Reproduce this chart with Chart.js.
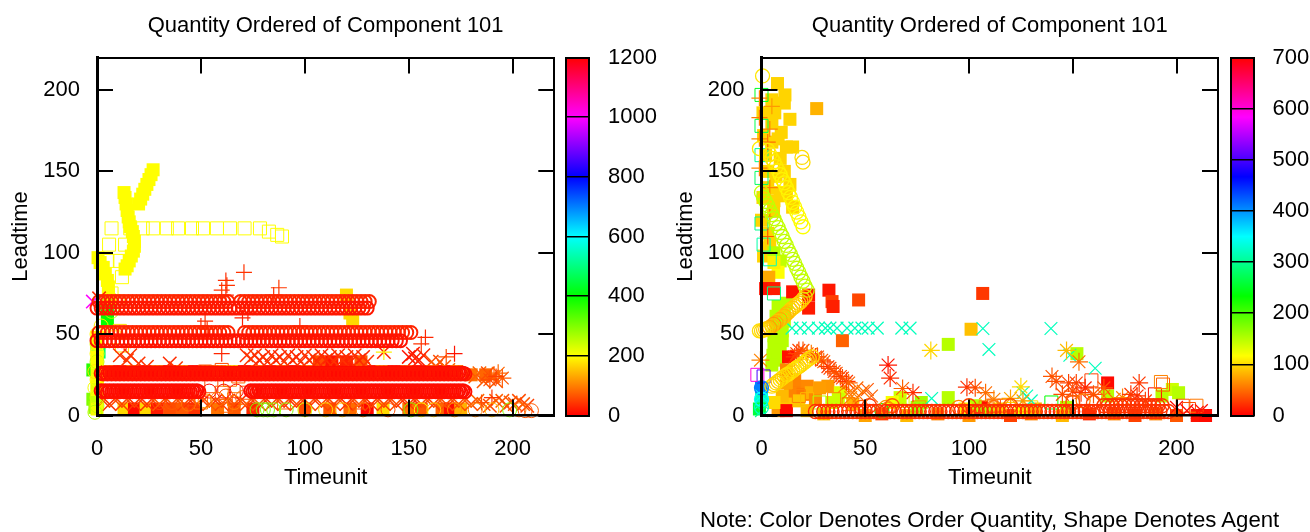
<!DOCTYPE html>
<html><head><meta charset="utf-8">
<script src="https://cdn.jsdelivr.net/npm/chart.js@4"></script>
<style>
html,body{margin:0;padding:0;background:#fff;width:1310px;height:532px;overflow:hidden}
canvas{position:absolute;top:0}
#note{position:absolute;left:700px;top:507px;font:22.2px "Liberation Sans",Arial,sans-serif;color:#000;white-space:nowrap}
</style></head><body>
<canvas id="plotL" width="580" height="532" style="left:0"></canvas>
<canvas id="barL" width="100" height="532" style="left:560px"></canvas>
<canvas id="plotR" width="580" height="532" style="left:665px"></canvas>
<canvas id="barR" width="85" height="532" style="left:1225px"></canvas>
<div id="note">Note: Color Denotes Order Quantity, Shape Denotes Agent</div>
<script>
const chartTitle='Quantity Ordered of Component 101', xTitle='Timeunit', yTitle='Leadtime';
const qtyMaxL=1200, qtyMaxR=700;

// ---- left panel: circle bands (times typed per row)
const row70=[1,3,5,7,9,11,13,15,17,19,21,23,25,27,29,31,33,35,37,39,41,43,45,47,49,51,53,55,57,59,61,63,69,71,73,75,77,79,81,83,85,87,89,91,93,95,97,99,101,103,105,107,109,111,113,115,117,119,121,123,125,127,129,131];
const row66=[0,2,4,6,8,10,12,14,16,18,20,22,24,26,28,30,32,34,36,38,40,42,44,46,48,50,52,54,56,58,60,62,64,66,68,70,72,74,76,78,80,82,84,86,88,90,92,94,96,98,100,102,104,106,108,110,112,114,116,118,120,122,124,126,128,130];
const row51=[1,3,5,7,9,11,13,15,17,19,21,23,25,27,29,31,33,35,37,39,41,43,45,47,49,51,53,55,57,59,61,63,71,73,75,77,79,81,83,85,87,89,91,93,95,97,99,101,103,105,107,109,111,113,115,117,119,121,123,125,127,129,131,133,135,137,139,141,143,145,147,149,151];
const row46=[0,2,4,6,8,10,12,14,16,18,20,22,24,26,28,30,32,34,36,38,40,42,44,46,48,50,52,54,56,58,60,62,64,66,68,70,72,74,76,78,80,82,84,86,88,90,92,94,96,98,100,102,104,106,108,110,112,114,116,118,120,122,124,126,128,130,132,134,136,138,140,142,144,146];
const row26=[2,4,6,8,10,12,14,16,18,20,22,24,26,28,30,32,34,36,38,40,42,44,46,48,50,52,54,56,58,60,62,64,66,68,70,72,74,76,78,80,82,84,86,88,90,92,94,96,98,100,102,104,106,108,110,112,114,116,118,120,122,124,126,128,130,132,134,136,138,140,142,144,146,148,150,152,154,156,158,160,162,164,166,168,170,172,174,176];
const row25=[3,5,7,9,11,13,15,17,19,21,23,25,27,29,31,33,35,37,39,41,43,45,47,49,51,53,55,57,59,61,63,65,67,69,71,73,75,77,79,81,83,85,87,89,91,93,95,97,99,101,103,105,107,109,111,113,115,117,119,121,123,125,127,129,131,133,135,137,139,141,143,145,147,149,151,153,155,157,159,161,163,165,167,169,171,173,175,177];
const row16=[2,4,6,8,10,12,14,16,18,20,22,24,26,28,30,32,34,36,38,40,42,44,46,48,74,76,78,80,82,84,86,88,90,92,94,96,98,100,102,104,106,108,110,112,114,116,118,120,122,124,126,128,130,132,134,136,138,140,142,144,146,148,150,152,154,156,158,160,162,164,166,168,170,172,174,176];
const row14=[3,5,7,9,11,13,15,17,19,21,23,25,27,29,31,33,35,37,39,41,43,45,47,49,75,77,79,81,83,85,87,89,91,93,95,97,99,101,103,105,107,109,111,113,115,117,119,121,123,125,127,129,131,133,135,137,139,141,143,145,147,149,151,153,155,157,159,161,163,165,167,169,171,173,175,177];
const bandLeads=[70,66,51,46,26,25.5,15.2,14.6];
const bandQtys=[30,18,28,15,8,14,6,12];
const bandRows=[row70,row66,row51,row46,row26,row25,row16,row14];

// ---- flat triples: time, leadtime, quantity
const lCircles=[-1,2,260,0,6,240,0,11,230,-1,17,210,0,22,200,-1,27,180,0,33,240,0,38,200,0,44,220,0,50,200,2,55,190,5,68,300,7,64,260,54,15,10,61,15,8,67,15,12,
 77,3.5,300,80,3.5,300,82,3.5,300,85,3.5,290,91,3.5,300,100,3.5,230,110,3.5,170,118,3.5,150,128,3.5,100,140,3.5,60,151,3.5,300,156,3.5,200,162,3.5,160,172,3.5,120,182,3.5,100,190,3.5,150,198.5,3.5,300,203,3.5,90,206,3,70,209,3,70,
 30,8,60,36,8,70,44,7,90,52,9,120,58,10,90,62,12,60,66,8,100,70,11,80];
const lFilled=[13,137,200,13.5,134,200,14,130,200,14.5,126,200,15,122,200,15.5,119,200,16,116,200,17,113,200,17.5,110,200,18,107,200,18,104,200,17.5,101,200,16.5,98,200,15.5,95,200,14.5,92,200,13.5,90,200,
 27,151,200,26,148,200,25,145,200,24,142,200,23,139,200,22,136,200,21,133,200,20,130,200,
 0.5,97,200,1.5,94,200,3,91,200,4,87,200,5,83,200,5.5,79,200,5.5,75,200,6,71,200,
 120,74,170,121.7,63,170,123,59,170,
 5,64,400,5,58,400,0,42,500,1,39,480,-2,28,370,-2,10,300,-1,5,280,0,48,200,0,44,210,0,36,200,0,32,205,0,24,210,0,20,200,0,16,220,0,12,205,0,8,240,0,4,210,
 5,27,60,11,27,20,17,27,80,23,27,15,29,27,70,35,27,12,41,27,90,47,27,15,53,27,60,59,27,90,65,27,150,71,27,15,77,27,85,83,27,20,89,27,70,95,27,15,101,27,90,107,27,12,113,27,85,119,27,15,125,27,60,131,27,15,137,27,80,143,27,18,149,27,60,155,27,15,161,27,70,167,27,15,173,27,80,180,25,90,187,25,80,
 107,33,60,113,33,15,120,33,25,127,33,70,
 13,4,170,18,4,8,23.6,4,170,29,4,20,35,4,60,41,4,70,47,4,40,58,4,90,66,4,70,75,4,30,100,4,60,112,4,70,121.7,4,85,130,4,5,137.6,4,170,150,4,90,156,4,70,166,4,80,170,4,10,175,4,140];
const lHollow=[7,115,200,16,115,200,22,115,200,27,115,200,33.6,115,200,39,115,200,45.7,115,200,51,115,200,57.7,115,200,64,115,200,71,115,200,78.4,115,200,82.7,113,200,86.7,111,200,89,110,200,
 5.8,105,200,13.5,105,200,5,95,200,11,95,200,12,85,200,7,75,200,10,70,190,11,52,170,8,48,180,12,43,170,
 52,27,60,56,26,90,60,28,60,64,22,100,68,24,80,55,18,60,60,14,90,66,10,90,72,14,60,62,6,80,44,10,60,50,8,90,90,8,80,125,8,60];
const lCrossX=[11,37,40,14.4,34,45,16,37,40,20,32,40,24,30,40,35,32,35,38,29,40,
 72,37,35,74,35,40,76,37,45,78,34,30,80,36,35,82,33,40,84,37,35,86,34,40,88,36,30,90,33,45,92,37,35,94,34,40,96,36,30,98,33,35,100,37,40,102,34,35,104,36,40,106,33,35,108,37,30,110,34,35,112,36,30,114,33,40,116,37,35,118,34,40,120,36,35,122,33,30,124,37,40,126,34,35,128,36,30,130,33,40,138,39,30,150,36,15,152,38,20,153,35,25,155,34,25,157,37,30,161,33,60,163,30,70,165,33,60,167,30,70,169,28,80,182,24,70,184,26,80,186,21,70,188,26,60,190,24,70,192,21,70,
 3,9,50,6,7,40,9,9,60,12,7,50,15,9,60,18,7,45,21,9,50,24,7,40,27,9,55,30,7,70,33,9,45,36,7,60,39,9,60,42,7,50,45,9,40,48,7,60,51,9,50,54,7,70,57,9,45,60,7,55,63,9,60,66,7,60,69,9,40,72,7,60,75,9,50,78,7,70,81,9,40,84,7,50,87,9,60,90,7,55,93,9,45,96,7,60,99,9,50,102,7,60,105,9,45,108,7,55,111,9,60,114,7,50,117,9,60,120,7,40,123,9,55,126,7,60,129,9,50,132,7,45,135,9,60,138,7,50,141,9,55,144,7,60,147,9,40,150,7,50,153,9,40,156,7,60,159,9,60,162,7,50,165,9,70,168,7,60,171,9,55,174,7,60,177,9,70,180,7,60,183,9,80,186,7,70,189,6,60,192,9,75,195,9,70,197,6,60,199,8,70,201,7,65,203,9,60,205,7,70,207,6,50,-2,70,1000,1,72,30,3,67,60];
const lPlus=[70.7,88,40,62,83,35,62.5,80,40,62,74,30,60,77,40,87.5,78.5,45,85,74,40,52,58,35,53,53,40,50,55,30,72.6,63,30,70,60,25,97.6,55,30,158,48,30,156,44,40,172,38,15,168,36,60,192,24,50,190,11,40,138,39,190,185,8,60,60,38,30];
const lStars=[191,24,70,193,26,80,195,23,70,189,22,60];

// ---- right panel
const rBandT=[26,28,30,32,34,36,38,40,42,44,46,48,50,52,54,56,60,62,64,66,68,70,72,74,76,78,80,82,84,86,88,90,92,94,96,98,100,102,104,106,108,110,112,114,116,118,120,122,124,126,128,130,132,134,136,138,140,142,144,146,148,150,152,154,156,158,160,162,164,166,168,170,172,174,176,178,180,182,184,186,188,190,192,194,196];
const rBand2T=[165,167,169,171,173,175,177,179,181,183,185,187,189,191,193];
const rBandLead=2.5, rBandQty=22, rBand2Lead=6, rBand2Qty=24;
const rCircles=[3,163,108,4,160.5,108,5,158,108,6,156,108,7,153,108,8,150.5,108,9,148,112,10,145,112,11,143,112,12,140,112,13,137,112,14,134,112,15,131,115,16,128,115,17,125,115,18,122,115,19,119,115,20,116,118,0.5,208.7,105,19.5,158.6,100,20,155.7,100,-1,164,108,
 0,137,145,1,134,145,2,131.5,145,3,129,145,4,126,145,5,123.5,145,6,121,145,7,118,145,8,115.5,145,9,112.5,145,10,110,145,11,107,145,12,104.5,145,13,101.5,145,14,99,145,15,96,145,16,93.5,145,17,90.5,145,18,88,145,19,85,145,20,82.5,145,21,79.5,145,22,77,145,
 21,73,95,20,71.5,95,19,70,90,18,69,95,17,68,100,16,67,95,15,66,90,14,65,95,13,63.5,90,12,62.5,85,11,61,85,10,60,90,9,59,80,8,58,90,7,57,80,6,56,70,5,55,85,4,54,75,3,53.5,85,2,53,90,1,52.5,95,0,52,100,-1,52,100,
 24.5,36,100,23,35,100,22,34,95,21,33,100,20,32,105,19,31,100,18,30,95,17,29.5,100,16,28.5,105,15,27.5,100,14,26.5,95,13,25.5,100,12,25,105,11,24,100,10,23,95,9,22,100,8,21,90,7,20,100,6,19,95,5,18,100,
 0,17,408,0,10,350,0,5,320,
 58,3,230,61,4,60,150,8,40,155,9,60,160,8,35,48,5,40,52,6,30,60,5,70,63,6,40,95,5,60,100,6,30,112,5,50,120,6,40];
const rFilled=[7.7,204,97,11.3,197,97,11,192,97,0.7,186,97,6.4,186,97,13.7,182,97,9.5,174,97,15,165,97,12,165,97,9,158,97,13.7,142,97,15,128,97,0.7,134,97,5.8,126,97,0,120,97,4,106,97,3.5,103,97,3,112,97,1,98,97,26.6,188.6,82,5,180,97,3,150,97,7,147,97,6,132,97,2,160,97,5,194,97,8,170,97,5,168,97,11,150,97,3,140,97,9,137,97,12,135,97,1,172,97,
 9,95,145,6,100,150,8,88,117,6,94,110,3.5,85,78,2,78,8,6,78,12,
 12,69,150,8,67,150,11,64,150,7,61,150,11,58,150,7,55,150,10,52,150,6,49,150,10,46,150,6,43,150,9,40,150,5.5,37,150,8,34,150,5,31,150,
 32.5,77,10,34,70,28,34.5,67,14,46.8,71,32,22.7,66,12,22.7,74,10,15,76,8,39,46,45,13,36,8,12,28,62,101,53,88,90,43.7,150,90,11,150,66.8,11,140,63,8,120,77,8,160,106.6,75,25,166.8,20,4,152,38,150,198,16,140,201,14,150,193,12,150,166.8,12,150,147,5,150,106,5,8,103,6,150,
 15,17,65,18,17,58,22,18,62,32,18,70,14,14,60,12,7,90,8,3,70,12,3,4,22,3,85,44,7,85,38,14,130,37,10,140,34,8,140,16,22,60,20,13,55,24,14,80,26,10,62,28,17,72,12,20,75,10,12,85,18,9,90,6,8,100,
 30,1,85,50,0,75,58,1,30,70,0,85,85,1,60,100,0,70,120,0,30,130,1,60,145,0,85,158,1,20,170,1,60,180,0,30,190,1,60,200,0,40,210,0,8,214,0,5,98,4,110,110,3,150,75,5,160,115,4,95,125,3,120,132,4,80,
 0,17,408,0,10,320,-1,4,260];
const rHollow=[0,197,250,0,178,270,0,160,300,0,146,280,0,118,300,1,105,310,4,96,320,6,75,290,1,24,500,-2,25,600,
 159,21.6,30,189.6,13,8,192.5,20.6,60,193.5,19,45,139.7,8,233,130,5,100,117,6,50,112,6,30,108,5,60,120,4,100,203,6,40,209.6,6,55,206,4,35,
 18,12,60,22,10,85,28,8,150,35,10,60,42,7,60,68,9,130,76,5,70,150,8,40];
const rCrossX=[14.7,53.7,320,18.7,53.7,320,22.6,53.7,320,27.4,53.7,320,30.8,53.7,320,33,53.7,320,36.4,53.7,320,41.2,53.7,320,45,53.7,320,48.4,53.7,320,51.4,53.7,320,55.8,53.7,320,67.6,53.7,320,71.6,53.7,320,
 106.7,53.5,320,109.6,40.6,320,139.5,53.5,320,160.8,29,320,148.6,37,320,82,10.5,320,127.8,12,320,126,14,320,130,9,320,
 0,12,350,0,8,330,0,3,300,40,18,60,42,14,50,44,14,60,46,17,50,47,12,50,49,15,55,51,16,40,53,12,45,43,11,60,165,12,60,170,10,50,200,5,5,205,3,4,210,2,4,212,3,8];
const rPlus=[-1,195,60,-1,183,55,-1,170,60,-1,152,60,5,190,70,4,176,60,3,168,50,4,140,60,4,122,50,3,110,40];
const rStars=[61,31,10,62,23,20,81.6,40,98,-0.5,34,60,99,17.4,20,103,17,35,68,16.6,45,73,14,20,
 16,36,25,18,40,30,20,40,40,22,38,45,24,38,55,26,36,30,27,36,35,29,34,40,30,33,45,32,30,25,33,29,30,35,27,35,36,26,40,38,24,30,39,23,35,41,21,25,42,20,45,17,38,30,
 125,17.6,100,120,10.5,75,140,24,40,142,21,35,145,13,35,147,40,85,153,33,50,151.7,20,30,156,17,15,182,20,25,181,12,20,174,11,60,165,17,40,108,14,50,112,10,60,126,9,70,148,20,30,150,15,35,154,14,25,160,13,40,178,13,25,185,9,30];

const hue=(q,max)=>`hsl(${q/max*360},100%,50%)`;
function triples(flat,max){const pts=[],cols=[];for(let i=0;i<flat.length;i+=3){pts.push({x:flat[i],y:flat[i+1]});cols.push(hue(flat[i+2],max));}return {pts,cols};}
function ds(flat,max,style,radius,filled,bw){const t=triples(flat,max);return {data:t.pts,pointStyle:style,pointRadius:radius,pointBorderWidth:bw,
  pointBorderColor:filled?'transparent':t.cols,pointBackgroundColor:filled?t.cols:'transparent',showLine:false,clip:false};}
function bandFlat(){const f=[];bandRows.forEach((ts,i)=>ts.forEach(t=>f.push(t,bandLeads[i],bandQtys[i])));return f;}
function rBandFlat(){const f=[];rBandT.forEach(t=>f.push(t,rBandLead,rBandQty));rBand2T.forEach(t=>f.push(t,rBand2Lead,rBand2Qty));return f;}

const font={family:'"Liberation Sans",Arial,sans-serif',size:22};
function plot(id,lw,rw,sets){
  sets.forEach((s,i)=>s.order=-i);
  const tick={color:'#000',lineWidth:2,tickColor:'#000',tickWidth:2,tickLength:-16,drawOnChartArea:false,z:1};
  const common={type:'linear',min:0,max:220,ticks:{stepSize:50,includeBounds:false,autoSkip:false,maxRotation:0,color:'#000',font}};
  const hid={...common,ticks:{...common.ticks,display:false}};
  new Chart(document.getElementById(id),{type:'scatter',data:{datasets:sets},options:{responsive:false,animation:false,events:[],
    layout:{padding:0},plugins:{legend:{display:false},tooltip:{enabled:false},title:{display:false}},
    scales:{
      x:{...common,position:'bottom',grid:tick,border:{display:true,color:'#000',width:2.5,z:2},ticks:{...common.ticks,padding:36},
         title:{display:true,text:xTitle,color:'#000',font,padding:{bottom:41,top:0}},afterFit:s=>{s.height=116.5}},
      y:{...common,position:'left',grid:tick,border:{display:true,color:'#000',width:3,z:2},ticks:{...common.ticks,padding:33},
         title:{display:true,text:yTitle,color:'#000',font,padding:{top:8,bottom:0}},afterFit:s=>{s.width=lw}},
      x2:{...hid,axis:'x',position:'top',grid:tick,border:{display:true,color:'#000',width:2,z:2},
         title:{display:true,text:chartTitle,color:'#000',font,padding:{top:13,bottom:0}},afterFit:s=>{s.height=57.5}},
      y2:{...hid,axis:'y',position:'right',grid:tick,border:{display:true,color:'#000',width:2,z:2},afterFit:s=>{s.width=rw}}
    }}});
}
plot('plotL',97,25.7,[ds(lFilled,qtyMaxL,'rect',9.2,true,0),ds(lHollow,qtyMaxL,'rect',9.2,false,1),ds(lCrossX,qtyMaxL,'crossRot',9.5,false,1.5),ds(lStars,qtyMaxL,'star',9,false,1.2),ds(lPlus,qtyMaxL,'cross',8,false,1.2),ds(lCircles,qtyMaxL,'circle',7,false,1),ds(bandFlat(),qtyMaxL,'circle',6.5,false,2)]);
plot('plotR',96.5,27,[ds(rFilled,qtyMaxR,'rect',9.2,true,0),ds(rHollow,qtyMaxR,'rect',9.2,false,1),ds(rCrossX,qtyMaxR,'crossRot',9,false,1.2),ds(rStars,qtyMaxR,'star',9,false,1.2),ds(rPlus,qtyMaxR,'cross',8,false,1.2),ds(rCircles,qtyMaxR,'circle',7,false,1.3),ds(rBandFlat(),qtyMaxR,'circle',7,false,1.4)]);

function colorbar(id,max,step,lw,rw){
  const b={display:true,color:'#000',width:2,z:2};
  new Chart(document.getElementById(id),{type:'bar',data:{labels:[''],datasets:[{data:[max],barPercentage:1,categoryPercentage:1,
    backgroundColor:c=>{const a=c.chart.chartArea;if(!a)return '#f00';const g=c.chart.ctx.createLinearGradient(0,a.bottom,0,a.top);for(let i=0;i<=12;i++)g.addColorStop(i/12,`hsl(${i*30},100%,50%)`);return g;}}]},
    options:{responsive:false,animation:false,events:[],layout:{padding:0},plugins:{legend:{display:false},tooltip:{enabled:false}},
    scales:{
      x:{position:'bottom',grid:{display:false},ticks:{display:false},border:b,afterFit:s=>{s.height=116.5}},
      x2:{type:'linear',axis:'x',position:'top',min:0,max:1,grid:{display:false},ticks:{display:false},border:b,afterFit:s=>{s.height=57.5}},
      y:{type:'linear',position:'right',min:0,max,ticks:{stepSize:step,autoSkip:false,color:'#000',font,padding:19,callback:v=>String(v)},
         grid:{color:'#000',lineWidth:1.5,drawTicks:false,z:1},border:b,afterFit:s=>{s.width=rw}},
      y2:{type:'linear',axis:'y',position:'left',min:0,max,grid:{display:false},ticks:{display:false},border:b,afterFit:s=>{s.width=lw}}
    }}});
}
colorbar('barL',qtyMaxL,200,5.5,71);
colorbar('barR',qtyMaxR,100,5.5,56.5);
</script>
</body></html>
